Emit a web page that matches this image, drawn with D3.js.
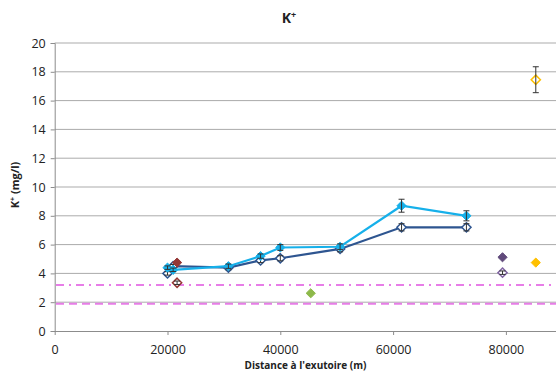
<!DOCTYPE html>
<html><head><meta charset="utf-8">
<script src="https://cdn.jsdelivr.net/npm/d3@7"></script>
<style>body{margin:0;background:#fff}svg{display:block}text{font-family:"Open Sans",sans-serif;fill:#222}</style>
</head><body>
<svg id="c" width="556" height="380"></svg>
<script>
// ---- data ----
const stationX = [20000, 21000, 30800, 36500, 40000, 50600, 61500, 73000];
const lightBlueY = [4.4, 4.25, 4.5, 5.2, 5.8, 5.85, 8.7, 8.0];
const lightBlueErr = [0.12, 0.12, 0.15, 0.15, 0.2, 0.2, 0.45, 0.35];
const darkBlueY = [4.0, 4.5, 4.4, 4.9, 5.05, 5.7, 7.2, 7.2];
const darkBlueErr = [0.12, 0.12, 0.15, 0.15, 0.18, 0.2, 0.25, 0.25];
const singleX = [21700, 21700, 45400, 79400, 79400, 85300, 85300];
const singleY = [4.75, 3.35, 2.62, 5.12, 4.05, 17.45, 4.75];
const singleErr = [0, 0.12, 0, 0, 0.12, 0.9, 0];
const singleColor = ["#953735", "#953735", "#8DB94A", "#604A7B", "#8064A2", "#FFC000", "#FFC000"];
const singleOpen = [false, true, false, false, true, true, false];
const refLines = [3.2, 1.9];
const yTicks = [0, 2, 4, 6, 8, 10, 12, 14, 16, 18, 20];
const xTicks = [0, 20000, 40000, 60000, 80000];

const svg = d3.select("#c");
const x = d3.scaleLinear().domain([0, 90000]).range([54.7, 562.3]);
const y = d3.scaleLinear().domain([0, 20]).range([331, 43]);

// gridlines
svg.append("g").selectAll("line").data(yTicks.slice(1)).join("line")
  .attr("x1", 54.7).attr("x2", 556).attr("y1", d => y(d)).attr("y2", d => y(d))
  .attr("stroke", "#ababab").attr("stroke-width", 1);

// axes
const yAxis = d3.axisLeft(y).tickValues(yTicks).tickSize(4).tickPadding(5).tickFormat(d3.format("d"));
const gy = svg.append("g").attr("transform", "translate(54.7,0)").call(yAxis);
const xAxis = d3.axisBottom(x).tickValues(xTicks).tickSize(4).tickPadding(10).tickFormat(d3.format("d"));
const gx = svg.append("g").attr("transform", "translate(0,331)").call(xAxis);
[gx, gy].forEach(g => {
  g.select(".domain").attr("stroke", "#8c8c8c");
  g.selectAll(".tick line").attr("stroke", "#8c8c8c");
  g.selectAll(".tick text").attr("font-size", "12.5px").attr("fill", "#222").attr("font-family", "Open Sans");
});
gx.select(".domain").attr("d", "M54.7,0.5H556");

// reference lines
svg.append("g").selectAll("line").data(refLines).join("line")
  .attr("x1", 56).attr("x2", 556).attr("y1", d => y(d)).attr("y2", d => y(d))
  .attr("stroke", "#E77DE7").attr("stroke-width", 2)
  .attr("stroke-dasharray", (d, i) => i === 0 ? "8,5,2,5" : "8,5");

const diamond = "M0,-4.6L4.6,0L0,4.6L-4.6,0Z";

function errBars(xs, ys, es) {
  const g = svg.append("g");
  xs.forEach((xv, i) => {
    const e = es[i]; if (!e) return;
    const cx = x(xv), t = y(ys[i] + e), b = y(ys[i] - e);
    g.append("line").attr("x1", cx).attr("x2", cx).attr("y1", t).attr("y2", b).attr("stroke", "#333").attr("stroke-width", 1);
    g.append("line").attr("x1", cx - 3).attr("x2", cx + 3).attr("y1", t).attr("y2", t).attr("stroke", "#333").attr("stroke-width", 1);
    g.append("line").attr("x1", cx - 3).attr("x2", cx + 3).attr("y1", b).attr("y2", b).attr("stroke", "#333").attr("stroke-width", 1);
  });
}

function series(ys, es, color, open) {
  const pts = stationX.map((xv, i) => [xv, ys[i]]);
  svg.append("path").datum(pts)
    .attr("d", d3.line().x(d => x(d[0])).y(d => y(d[1])))
    .attr("fill", "none").attr("stroke", color).attr("stroke-width", 2.2);
  svg.append("g").selectAll("path").data(pts).join("path")
    .attr("transform", d => `translate(${x(d[0])},${y(d[1])})`)
    .attr("d", diamond)
    .attr("fill", open ? "#fff" : color).attr("stroke", color).attr("stroke-width", open ? 1.5 : 1);
  errBars(stationX, ys, es);
}

series(darkBlueY, darkBlueErr, "#2E5590", true);
series(lightBlueY, lightBlueErr, "#16B0EA", false);

svg.append("g").selectAll("path").data(singleX).join("path")
  .attr("transform", (d, i) => `translate(${x(d)},${y(singleY[i])})`)
  .attr("d", diamond)
  .attr("fill", (d, i) => singleOpen[i] ? "#fff" : singleColor[i])
  .attr("stroke", (d, i) => singleColor[i]).attr("stroke-width", (d, i) => singleOpen[i] ? 1.5 : 1);
errBars(singleX, singleY, singleErr);

// titles
const t = svg.append("text").attr("x", 289).attr("y", 23).attr("text-anchor", "middle")
  .attr("font-size", "14px").attr("font-weight", "bold");
t.append("tspan").text("K");
t.append("tspan").attr("font-size", "9px").attr("dy", "-5").text("+");
svg.append("text").attr("x", 305.5).attr("y", 369).attr("text-anchor", "middle")
  .attr("font-size", "10px").attr("font-weight", "bold").attr("font-family", "Liberation Sans")
  .text("Distance à l'exutoire (m)");
const yt = svg.append("text").attr("transform", "translate(19,185) rotate(-90)").attr("text-anchor", "middle")
  .attr("font-size", "11px").attr("font-weight", "bold").attr("font-family", "Liberation Sans");
yt.append("tspan").text("K");
yt.append("tspan").attr("font-size", "7px").attr("dy", "-4").text("+");
yt.append("tspan").attr("dy", "4").text(" (mg/l)");
</script>
</body></html>
